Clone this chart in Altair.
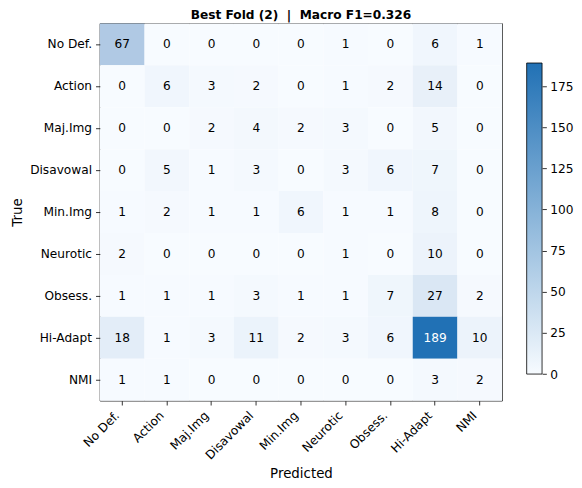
import altair as alt
import pandas as pd

labels = ["No Def.", "Action", "Maj.Img", "Disavowal", "Min.Img",
          "Neurotic", "Obsess.", "Hi-Adapt", "NMI"]

row_no_def = [67, 0, 0, 0, 0, 1, 0, 6, 1]
row_action = [0, 6, 3, 2, 0, 1, 2, 14, 0]
row_maj_img = [0, 0, 2, 4, 2, 3, 0, 5, 0]
row_disavowal = [0, 5, 1, 3, 0, 3, 6, 7, 0]
row_min_img = [1, 2, 1, 1, 6, 1, 1, 8, 0]
row_neurotic = [2, 0, 0, 0, 0, 1, 0, 10, 0]
row_obsess = [1, 1, 1, 3, 1, 1, 7, 27, 2]
row_hi_adapt = [18, 1, 3, 11, 2, 3, 6, 189, 10]
row_nmi = [1, 1, 0, 0, 0, 0, 0, 3, 2]

matrix = [row_no_def, row_action, row_maj_img, row_disavowal, row_min_img,
          row_neurotic, row_obsess, row_hi_adapt, row_nmi]

colorbar_ticks = [0, 25, 50, 75, 100, 125, 150, 175]
title_text = "Best Fold (2) \u00a0|\u00a0 Macro F1=0.326"
cmap_low = "#f7fbff"
cmap_high = "#2171b5"

records = []
for i, t in enumerate(labels):
    for j, p in enumerate(labels):
        records.append({"true": t, "pred": p, "n": matrix[i][j]})
df = pd.DataFrame(records)

vmax = max(max(r) for r in matrix)
FONT = "DejaVu Sans"
FS = 12.2

# layout (pixels)
PLOT_W, PLOT_H = 403, 378
CB_W, CB_LEN, CB_TOP = 15.4, 311.6, 39.7
cb_panel_h = CB_LEN + CB_TOP
cb_domain_max = vmax * cb_panel_h / CB_LEN

x_enc = alt.X("pred:N", sort=labels,
              scale=alt.Scale(paddingInner=0, paddingOuter=0),
              axis=alt.Axis(title="Predicted", labelAngle=-45, labelAlign="right",
                            labelBaseline="bottom", labelPadding=13,
                            titleY=76.5, titleBaseline="alphabetic",
                            titleFontSize=13.4, titleFontWeight="normal"))
y_enc = alt.Y("true:N", sort=labels,
              scale=alt.Scale(paddingInner=0, paddingOuter=0),
              axis=alt.Axis(title="True", titleX=-78, titleY=189, titleAngle=-90,
                            titleAlign="center", titleBaseline="alphabetic",
                            titleFontSize=13.4, titleFontWeight="normal"))

base = alt.Chart(df)

rects = base.mark_rect().encode(
    x=x_enc,
    y=y_enc,
    color=alt.Color("n:Q",
                    scale=alt.Scale(domain=[0, vmax], range=[cmap_low, cmap_high]),
                    legend=None),
)

texts = base.mark_text(font=FONT, fontSize=FS, align="center", baseline="middle").encode(
    x=alt.X("pred:N", sort=labels),
    y=alt.Y("true:N", sort=labels),
    text=alt.Text("n:Q"),
    color=alt.condition(alt.datum.n > vmax / 2, alt.value("white"), alt.value("black")),
)

heat = alt.layer(rects, texts).properties(
    width=PLOT_W,
    height=PLOT_H,
    title=alt.TitleParams(text=title_text, font=FONT,
                          fontSize=FS, fontWeight="bold", color="black",
                          anchor="middle", frame="group", offset=2),
    view=alt.ViewBackground(stroke="black", strokeWidth=0.8),
)

cbar_df = pd.DataFrame({"lo": [0], "hi": [vmax]})
cbar = alt.Chart(cbar_df).mark_rect(
    fill=alt.Gradient(gradient="linear",
                      stops=[alt.GradientStop(color=cmap_low, offset=0),
                             alt.GradientStop(color=cmap_high, offset=1)],
                      x1=0, x2=0, y1=1, y2=0),
    stroke="black", strokeWidth=0.8,
).encode(
    y=alt.Y("lo:Q", scale=alt.Scale(domain=[0, cb_domain_max], nice=False, zero=True),
            axis=alt.Axis(orient="right", title=None, values=colorbar_ticks,
                          labelFlush=False, labelOverlap=False, labelPadding=3.5)),
    y2="hi:Q",
).properties(
    width=CB_W,
    height=cb_panel_h,
    view=alt.ViewBackground(strokeWidth=0),
)

chart = alt.hconcat(heat, cbar, spacing=24.6, bounds="flush").properties(
    autosize=alt.AutoSizeParams(type="pad"),
    padding={"left": 2, "top": 0, "right": 0, "bottom": 0},
    background="white",
).configure_view(
    strokeWidth=0
).configure_axis(
    labelFont=FONT, labelFontSize=FS, labelColor="black",
    titleFont=FONT, titleColor="black",
    tickColor="black", tickSize=4.3, tickWidth=0.8, labelPadding=4,
    domain=False, grid=False,
)

chart.save("out.html", embed_options={"renderer": "svg", "actions": False})
